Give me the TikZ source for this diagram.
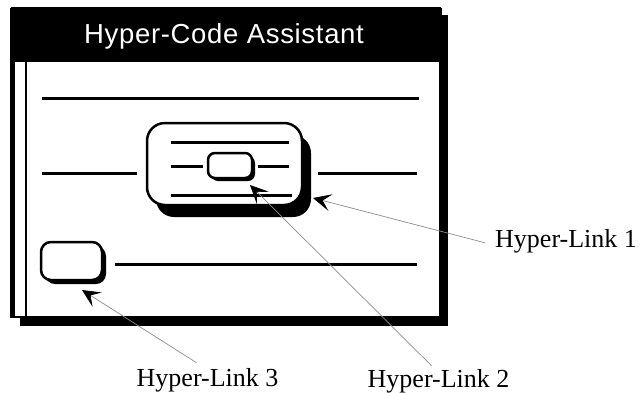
\documentclass[tikz,border=0pt]{standalone}
\usepackage{fontspec}
\setmainfont{Liberation Serif}
\newfontfamily\titlefont[LetterSpace=2.5]{Liberation Sans}
\usetikzlibrary{arrows.meta,calc,shadows}

\begin{document}
\begin{tikzpicture}[x=1pt,y=-1pt,
  rule/.style={line width=3pt},
  hlbox/.style={draw=black, line width=2.5pt, fill=white, inner sep=0pt},
  pointer/.style={draw=black!45, line width=0.7pt,
    -{Stealth[length=18pt,width=17pt,inset=8pt,black]}},
  linklabel/.style={font=\fontsize{26}{30}\selectfont, inner sep=2pt, anchor=base west}
]
\useasboundingbox (0,0) rectangle (640,392);

% window: drop shadow, frame, left edge, title bar
\fill[black] (20,15) rectangle (448,326);
\filldraw[fill=white, draw=black, line width=2.5pt] (12,8) rectangle (440,317);
\fill[black] (10,8) rectangle (15,318);
\fill[black] (10,8) rectangle (442,62);
\draw[line width=1.2pt] (26,62) -- (26,317);
\node[font=\titlefont\fontsize{27.5}{30}\selectfont, text=white, anchor=base] (title) at (224,43.5) {Hyper-Code Assistant};

% text lines of the code window
\draw[rule] (42,98) -- (419,98);
\draw[rule] (42,173) -- (137,173);
\draw[rule] (318,173) -- (417,173);
\draw[rule] (115,264) -- (417,264);

% hyper-link 1: expanded block
\node[hlbox, minimum width=155pt, minimum height=82pt, rounded corners=18pt,
  drop shadow={shadow xshift=9pt, shadow yshift=-12pt, fill=black, opacity=1}] (link1) at (224.5,164) {};
\draw[rule] (171,142) -- (289,142);
\draw[rule] (171,166) -- (203,166);
\draw[rule] (258,166) -- (289,166);
\draw[rule] (171,195) -- (292,195);

% hyper-link 2: nested link inside the block
\node[hlbox, minimum width=44pt, minimum height=25pt, rounded corners=7pt,
  drop shadow={shadow xshift=3pt, shadow yshift=-3pt, fill=black, opacity=1}] (link2) at (230,165.5) {};

% hyper-link 3: collapsed link
\node[hlbox, minimum width=61pt, minimum height=38pt, rounded corners=10pt,
  drop shadow={shadow xshift=4pt, shadow yshift=-4pt, fill=black, opacity=1}] (link3) at (71.5,261) {};

% pointer tips
\coordinate (tip1) at (313,198);
\coordinate (tip2) at (250,185);
\coordinate (tip3) at (82,290);

% labels
\node[linklabel] (lab1) at (493,247) {Hyper-Link 1};
\node[linklabel] (lab2) at (365.5,387) {Hyper-Link 2};
\node[linklabel] (lab3) at (134.5,386) {Hyper-Link 3};

% pointers
\draw[pointer] ($(lab1.west)+(-8,2)$) -- (tip1);
\draw[pointer] ($(lab2.north)+(-7,-1)$) -- (tip2);
\draw[pointer] ($(lab3.north)+(-11,-3)$) -- (tip3);
\end{tikzpicture}
\end{document}
